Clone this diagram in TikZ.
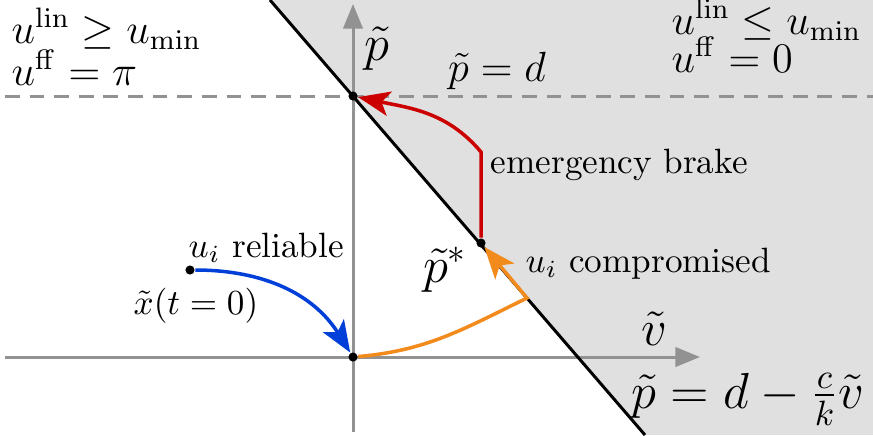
\documentclass[tikz,border=0pt]{standalone}
\usepackage{amsmath}
\usetikzlibrary{arrows.meta, positioning, calc}
\definecolor{RegionGray}{HTML}{E0E0E0}
\definecolor{AxisGray}{HTML}{929292}
\definecolor{ReliableBlue}{HTML}{0040D8}
\definecolor{AttackOrange}{HTML}{F28A1C}
\definecolor{BrakeRed}{HTML}{CC0000}

\begin{document}
\begin{tikzpicture}[
        x=0.01cm, y=0.01cm,
        dot/.style={circle, fill=black, inner sep=0pt, minimum size=2.6pt},
        axis/.style={-{Triangle[length=7pt, width=5.5pt]}, AxisGray, line width=0.85pt},
        limit/.style={AxisGray, line width=0.85pt, dash pattern=on 4.2pt off 2.8pt},
        traj/.style={-{Stealth[length=9pt, width=7pt, inset=2.2pt]}, line width=1pt},
        lbl/.style={inner sep=0pt},
        cond/.style={lbl, anchor=base west, font=\large},
        big/.style={lbl, font=\Large}
      ]
        \useasboundingbox (0,0) rectangle (873,435);

        % Region
        \fill[RegionGray] (270,435) -- (873,435) -- (873,0) -- (645,0) -- cycle;

        % Axes
        \coordinate (vleft) at (5,78);
        \coordinate (vright) at (700,78);
        \coordinate (pbottom) at (353,3);
        \coordinate (ptop) at (353,431);
        \coordinate (dleft) at (5,339);
        \coordinate (dright) at (873,339);
        \coordinate (btop) at (270,435);
        \coordinate (bbottom) at (645,0);
        \draw[limit] (dleft) -- (dright);
        \draw[axis] (vleft) -- (vright);
        \draw[axis] (pbottom) -- (ptop);
        \draw[line width=0.85pt] (btop) -- (bbottom);

        % Nodes
        \node[dot] (start) at (190,165) {};
        \node[dot] (origin) at (353,78) {};
        \node[dot] (pstar) at (481,192) {};
        \node[dot] (stop) at (353,339) {};
        \coordinate (kink) at (527,137);
        \coordinate (brake) at (481,283);

        % Edges
        \draw[traj, ReliableBlue] (start) to[out=0, in=122] (origin);
        \draw[traj, AttackOrange] (origin) to[out=5, in=206] (kink) -- (pstar);
        \draw[traj, BrakeRed] (pstar) -- (brake) to[out=130, in=-12] (stop);

        % Labels
        \node[cond] (lincondl) at (11,392) {$u^{\mathrm{lin}} \geq u_{\min}$};
        \node[cond] (ffcondl) at (11,350) {$u^{\mathrm{ff}} = \pi$};
        \node[cond] (lincondr) at (671,401) {$u^{\mathrm{lin}} \leq u_{\min}$};
        \node[cond] (ffcondr) at (671,363) {$u^{\mathrm{ff}} = 0$};
        \node[big, anchor=base west] (plabel) at (364,375) {$\tilde{p}$};
        \node[lbl, anchor=base, font=\large] (dlabel) at (497,354) {$\tilde{p} = d$};
        \node[lbl, anchor=base west] (brakelabel) at (490,262) {emergency brake};
        \node[lbl, anchor=base west] (reliablelabel) at (188,178) {$u_i$ reliable};
        \node[lbl, anchor=base east] (x0label) at (259,121) {$\tilde{x}(t=0)$};
        \node[big, anchor=base east] (pstarlabel) at (468,153) {$\tilde{p}^*$};
        \node[lbl, anchor=base west] (complabel) at (525,163) {$u_i$ compromised};
        \node[big, anchor=base west] (vlabel) at (641,90) {$\tilde{v}$};
        \node[big, anchor=base east] (linelabel) at (865,27) {$\tilde{p} = d - \frac{c}{k}\tilde{v}$};
      \end{tikzpicture}
\end{document}
